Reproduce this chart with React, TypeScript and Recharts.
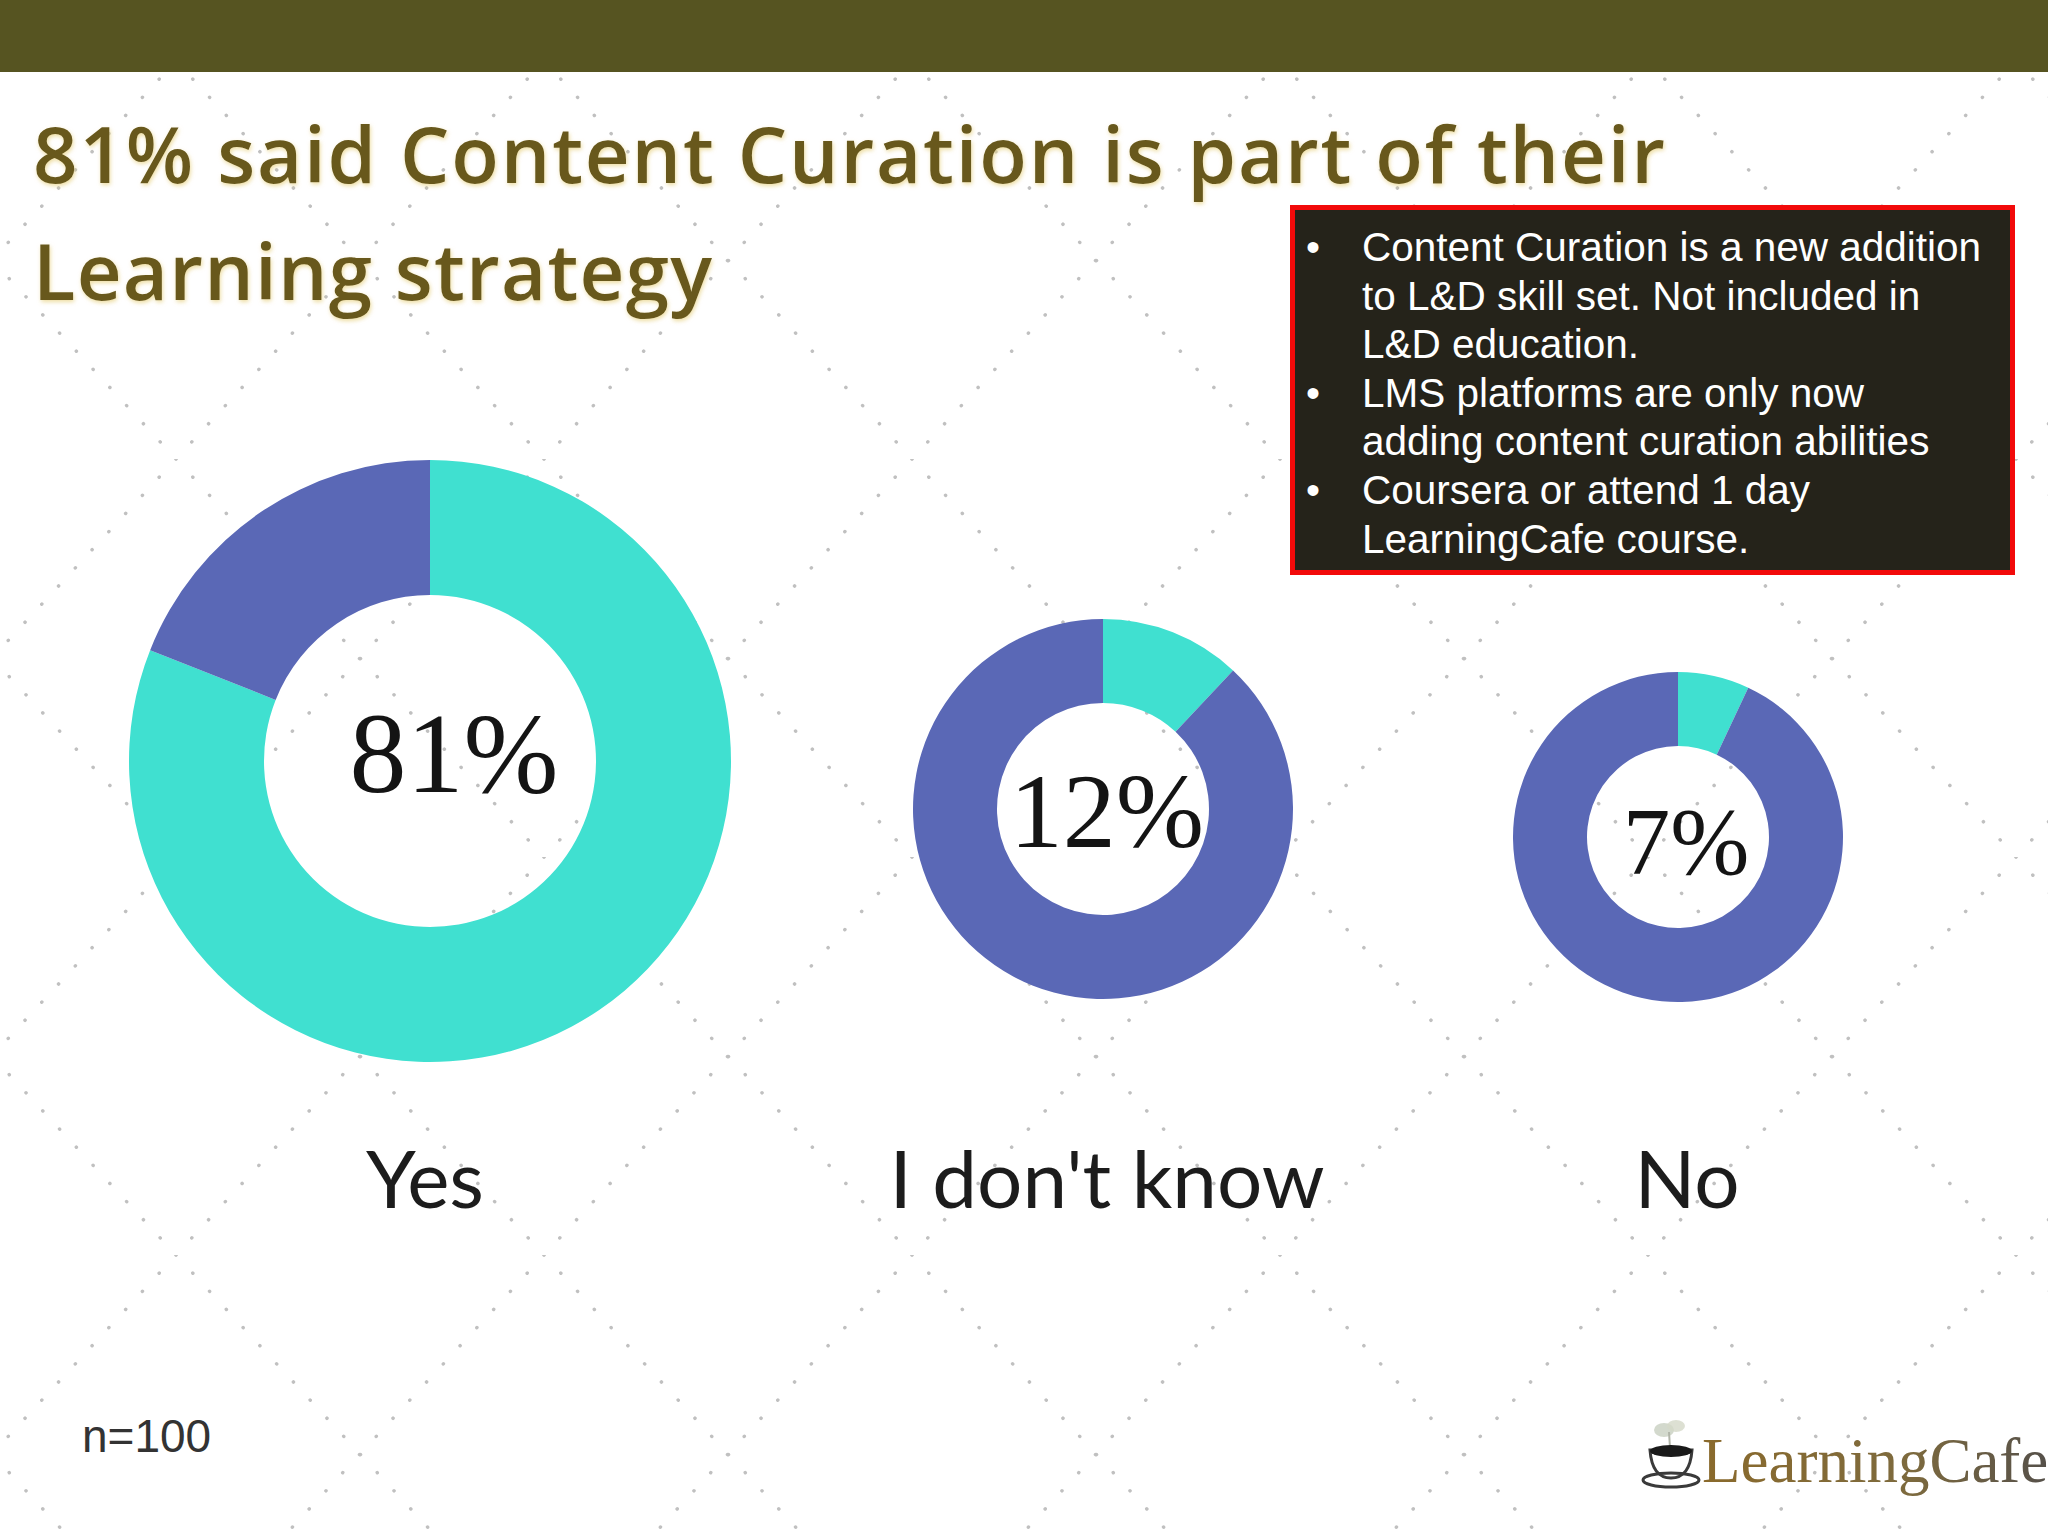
import React from 'react';
import { PieChart, Pie, Cell } from 'recharts';

// ---- data ----
const categories = ['Yes', "I don't know", 'No'];
const answerShare = [81, 12, 7];
const remainderShare = [19, 88, 93];
const sliceColors = ['#40E0D0', '#5A68B6'];
const titleLines = ['81% said Content Curation is part of their', 'Learning strategy'];
const noteLines = [
  'Content Curation is a new addition',
  'to L&D skill set. Not included in',
  'L&D education.',
  'LMS platforms are only now',
  'adding content curation abilities',
  'Coursera or attend 1 day',
  'LearningCafe course.',
];
const noteBullets = [true, false, false, true, false, true, false];
const sampleNote = 'n=100';
const brandName = 'LearningCafe';

// ---- layout ----
const W = 2048;
const H = 1536;
const titleWidths = [1632, 679];
const donutLayout = [
  { cx: 430, cy: 761, inner: 166, outer: 301, lx: 454, ly: 792, ls: 114, catX: 425 },
  { cx: 1103, cy: 809, inner: 106, outer: 190, lx: 1107, ly: 847, ls: 106, catX: 1107 },
  { cx: 1678, cy: 837, inner: 91, outer: 165, lx: 1686, ly: 874, ls: 95, catX: 1687 },
];

const pieData = categories.map((c, i) => [
  { name: c, value: answerShare[i] },
  { name: 'Other', value: remainderShare[i] },
]);

export default function App() {
  return (
    <div style={{ position: 'absolute', left: 0, top: 0, width: W, height: H, background: '#ffffff', overflow: 'hidden' }}>
      <svg width={W} height={H} style={{ position: 'absolute', left: 0, top: 0 }}>
        <defs>
          <pattern id="lattice" patternUnits="userSpaceOnUse" x={176} y={61} width={368} height={398}>
            <line x1={0} y1={0} x2={368} y2={398} stroke="#b5b5b5" strokeWidth={3.5} strokeLinecap="round" strokeDasharray="0.1 24.6" />
            <line x1={368} y1={0} x2={0} y2={398} stroke="#b5b5b5" strokeWidth={3.5} strokeLinecap="round" strokeDasharray="0.1 24.6" />
          </pattern>
        </defs>
        <rect x={0} y={72} width={W} height={H - 72} fill="url(#lattice)" opacity={0.85} />
        <rect x={0} y={0} width={W} height={72} fill="#565421" />
      </svg>

      <div style={{ position: 'absolute', left: 0, top: 0 }}>
        <PieChart width={W} height={H} margin={{ top: 0, right: 0, bottom: 0, left: 0 }}>
          {pieData.map((d, i) => {
            const g = donutLayout[i];
            return (
              <Pie
                key={categories[i]}
                data={d}
                dataKey="value"
                nameKey="name"
                cx={g.cx}
                cy={g.cy}
                innerRadius={g.inner}
                outerRadius={g.outer}
                startAngle={90}
                endAngle={-270}
                stroke="none"
                isAnimationActive={false}
              >
                {d.map((s, j) => (
                  <Cell key={s.name + j} fill={sliceColors[j]} />
                ))}
              </Pie>
            );
          })}
        </PieChart>
      </div>

      <svg width={W} height={H} style={{ position: 'absolute', left: 0, top: 0, pointerEvents: 'none' }}>
        <defs>
          <linearGradient id="gold" x1="0" y1="0" x2="1" y2="0">
            <stop offset="0" stopColor="#8a6a2c" />
            <stop offset="0.6" stopColor="#7d6a3e" />
            <stop offset="1" stopColor="#55504a" />
          </linearGradient>
          <filter id="glow" x="-5%" y="-20%" width="110%" height="140%">
            <feGaussianBlur in="SourceAlpha" stdDeviation="2" result="b" />
            <feOffset dx="1" dy="2" result="o" />
            <feFlood floodColor="#e6cf7a" floodOpacity="0.7" />
            <feComposite in2="o" operator="in" result="s" />
            <feMerge>
              <feMergeNode in="s" />
              <feMergeNode in="SourceGraphic" />
            </feMerge>
          </filter>
        </defs>

        {titleLines.map((t, i) => (
          <text
            key={t}
            x={33}
            y={183 + i * 117}
            fontFamily="Open Sans"
            fontWeight={600}
            fontSize={78}
            fill="#68591f"
            filter="url(#glow)"
            textLength={titleWidths[i]}
            lengthAdjust="spacing"
          >
            {t}
          </text>
        ))}

        {answerShare.map((v, i) => {
          const g = donutLayout[i];
          return (
            <text key={'c' + i} x={g.lx} y={g.ly} textAnchor="middle" fontFamily="Liberation Serif" fontSize={g.ls} fill="#141414">
              {v + '%'}
            </text>
          );
        })}

        {categories.map((c, i) => (
          <text key={'k' + i} x={donutLayout[i].catX} y={1208} textAnchor="middle" fontFamily="Lato" fontSize={80} fill="#1c1c1c">
            {c}
          </text>
        ))}

        <rect x={1292.5} y={207.5} width={720} height={365} fill="#25231a" stroke="#f20a0a" strokeWidth={5} />
        {noteLines.map((t, i) => (
          <g key={'n' + i}>
            {noteBullets[i] && (
              <text x={1306} y={261 + i * 48.6} fontFamily="Liberation Sans" fontSize={40} fill="#ffffff">•</text>
            )}
            <text x={1362} y={261 + i * 48.6} fontFamily="Liberation Sans" fontSize={40.5} fill="#ffffff">
              {t}
            </text>
          </g>
        ))}

        <text x={82} y={1452} fontFamily="Liberation Sans" fontSize={46} fill="#333333">
          {sampleNote}
        </text>

        {/* logo */}
        <g>
          <ellipse cx={1664} cy={1430} rx={10} ry={7} fill="#c8cfc0" opacity={0.8} />
          <ellipse cx={1676} cy={1426} rx={9} ry={6} fill="#d4d8c8" opacity={0.8} />
          <line x1={1669} y1={1432} x2={1670} y2={1448} stroke="#b0b4a8" strokeWidth={2} />
          <path d="M1650 1450 Q1652 1478 1671 1478 Q1690 1478 1692 1450 Z" fill="#ffffff" stroke="#3a3a3a" strokeWidth={3} />
          <ellipse cx={1671} cy={1451} rx={21} ry={6} fill="#1a1a1a" />
          <ellipse cx={1671} cy={1480} rx={28} ry={7} fill="none" stroke="#3a3a3a" strokeWidth={3} />
          <text x={1702} y={1482} fontFamily="Liberation Serif" fontSize={63} fill="url(#gold)">
            {brandName}
          </text>
        </g>
      </svg>
    </div>
  );
}
